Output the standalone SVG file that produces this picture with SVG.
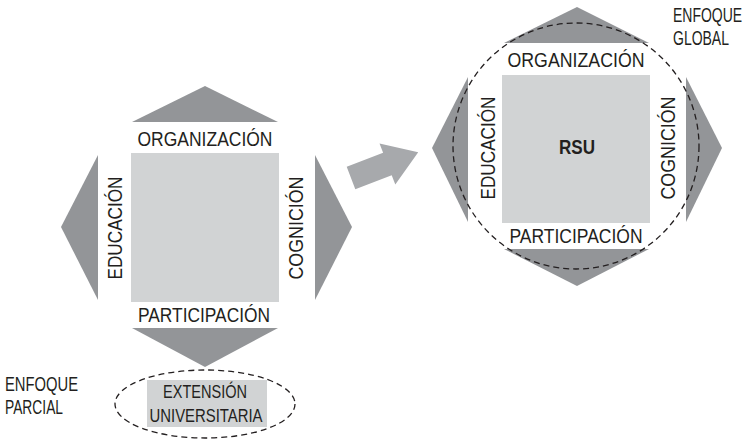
<svg xmlns="http://www.w3.org/2000/svg" width="747" height="441" viewBox="0 0 747 441">
<style>
.tri{fill:#939598}
.sq{fill:#d1d3d4}
.lbl{font-family:"Liberation Sans",Arial,sans-serif;font-size:21px;fill:#231f20;text-anchor:middle}
.sm{font-family:"Liberation Sans",Arial,sans-serif;font-size:20px;fill:#231f20}
.box{font-family:"Liberation Sans",Arial,sans-serif;font-size:18px;fill:#231f20;text-anchor:middle}
.dash{fill:none;stroke:#231f20;stroke-width:1.3;stroke-dasharray:6 4}
</style>
<rect width="747" height="441" fill="#fff"/>
<g id="parcial">
  <polygon class="tri" points="205,86 278,122 132,122"/>
  <polygon class="tri" points="61,227 98,155 98,300"/>
  <polygon class="tri" points="352,227 315,155 315,300"/>
  <polygon class="tri" points="205,367 278,328 132,328"/>
  <rect class="sq" x="131" y="153" width="148" height="149"/>
  <text class="lbl" x="205" y="146" textLength="135" lengthAdjust="spacingAndGlyphs">ORGANIZACIÓN</text>
  <text class="lbl" x="204" y="322" textLength="132" lengthAdjust="spacingAndGlyphs">PARTICIPACIÓN</text>
  <text class="lbl" transform="translate(122,228) rotate(-90)" textLength="103" lengthAdjust="spacingAndGlyphs">EDUCACIÓN</text>
  <text class="lbl" transform="translate(303,228) rotate(-90)" textLength="103" lengthAdjust="spacingAndGlyphs">COGNICIÓN</text>
</g>
<g id="extension">
  <ellipse class="dash" cx="205" cy="404" rx="90" ry="34"/>
  <rect class="sq" x="147" y="380" width="120" height="47"/>
  <text class="box" x="205" y="398" textLength="84" lengthAdjust="spacingAndGlyphs">EXTENSIÓN</text>
  <text class="box" x="206" y="422" textLength="113" lengthAdjust="spacingAndGlyphs">UNIVERSITARIA</text>
</g>
<g id="enfoque-parcial">
  <text class="sm" x="5" y="391" textLength="73" lengthAdjust="spacingAndGlyphs">ENFOQUE</text>
  <text class="sm" x="5" y="414" textLength="58" lengthAdjust="spacingAndGlyphs">PARCIAL</text>
</g>
<g id="connectors">
  <polygon fill="#a7a9ac" transform="translate(351,178) rotate(-21)" points="0,-12 39,-12 39,-22 72,0 39,22 39,12 0,12"/>
</g>
<g id="global">
  <polygon class="tri" points="577,7 649,43 504,43"/>
  <polygon class="tri" points="432,148 468,77 468,222"/>
  <polygon class="tri" points="722,148 686,77 686,222"/>
  <polygon class="tri" points="577,286 649,249 504,249"/>
  <rect class="sq" x="502" y="75" width="148" height="148"/>
  <circle class="dash" cx="576" cy="146" r="123"/>
  <text class="lbl" x="576" y="67" textLength="137" lengthAdjust="spacingAndGlyphs">ORGANIZACIÓN</text>
  <text class="lbl" x="576" y="243" textLength="133" lengthAdjust="spacingAndGlyphs">PARTICIPACIÓN</text>
  <text class="lbl" transform="translate(495,148) rotate(-90)" textLength="103" lengthAdjust="spacingAndGlyphs">EDUCACIÓN</text>
  <text class="lbl" transform="translate(675,148) rotate(-90)" textLength="103" lengthAdjust="spacingAndGlyphs">COGNICIÓN</text>
  <text class="lbl" x="577" y="154" style="font-weight:bold;font-size:20px" textLength="36" lengthAdjust="spacingAndGlyphs">RSU</text>
</g>
<g id="enfoque-global">
  <text class="sm" transform="translate(673,22) scale(0.7,1)">ENFOQUE</text>
  <text class="sm" transform="translate(673,45) scale(0.7,1)">GLOBAL</text>
</g>
</svg>
